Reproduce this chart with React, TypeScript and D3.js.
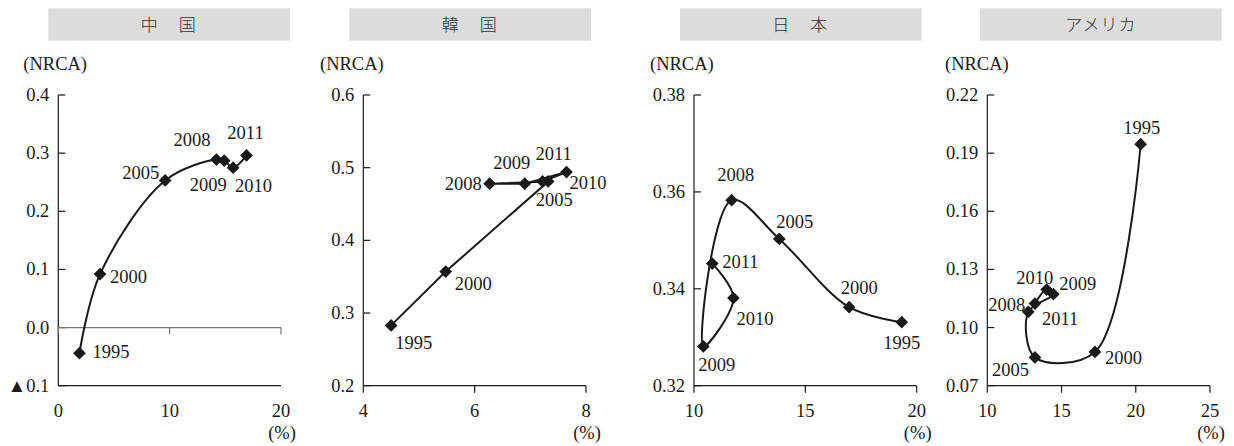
import React from "react";
import * as d3 from "d3";

// ---- data ----
const years = [1995, 2000, 2005, 2008, 2009, 2010, 2011];

const chinaShare = [1.9, 3.75, 9.6, 14.2, 14.9, 15.7, 16.9];
const chinaNrca = [-0.044, 0.092, 0.253, 0.289, 0.287, 0.275, 0.296];

const koreaShare = [4.5, 5.48, 7.32, 6.27, 6.9, 7.65, 7.22];
const koreaNrca = [0.283, 0.357, 0.481, 0.478, 0.478, 0.494, 0.481];

const japanShare = [19.33, 16.97, 13.83, 11.69, 10.42, 11.77, 10.82];
const japanNrca = [0.3331, 0.3362, 0.3503, 0.3583, 0.3281, 0.3381, 0.3452];

const usShare = [20.33, 17.25, 13.21, 12.76, 14.45, 14.0, 13.21];
const usNrca = [0.1946, 0.0874, 0.0846, 0.1081, 0.1172, 0.1196, 0.1124];

const chinaXTicks = [0, 10, 20];
const chinaYTicks = [-0.1, 0, 0.1, 0.2, 0.3, 0.4];
const chinaYLabels = ["▲0.1", "0.0", "0.1", "0.2", "0.3", "0.4"];

const koreaXTicks = [4, 6, 8];
const koreaYTicks = [0.2, 0.3, 0.4, 0.5, 0.6];
const koreaYLabels = ["0.2", "0.3", "0.4", "0.5", "0.6"];

const japanXTicks = [10, 15, 20];
const japanYTicks = [0.32, 0.34, 0.36, 0.38];
const japanYLabels = ["0.32", "0.34", "0.36", "0.38"];

const usXTicks = [10, 15, 20, 25];
const usYTicks = [0.07, 0.1, 0.13, 0.16, 0.19, 0.22];
const usYLabels = ["0.07", "0.10", "0.13", "0.16", "0.19", "0.22"];

const titles = ["中　国", "韓　国", "日　本", "アメリカ"];

// ---- layout (label placement relative to markers: anchor, dx, dy) ----
type Lab = [string, number, number];
const chinaLabels: Lab[] = [
  ["start", 13, -1], ["start", 10, 3], ["end", -6, -7], ["end", -6, -20],
  ["middle", -16, 24], ["start", 2, 18], ["middle", -1, -22],
];
const koreaLabelPos: Lab[] = [
  ["start", 4, 18], ["start", 9, 12], ["middle", 6, 19], ["end", -8, 0],
  ["middle", -13, -21], ["start", 3, 11], ["middle", 11, -27],
];
const japanLabelPos: Lab[] = [
  ["middle", 0, 21], ["middle", 10, -19], ["start", -3, -17], ["middle", 4, -25],
  ["start", -5, 19], ["start", 3, 21], ["start", 10, -2],
];
const usLabelPos: Lab[] = [
  ["middle", 1, -16], ["start", 10, 6], ["end", -6, 13], ["end", -3, -7],
  ["start", 6, -10], ["middle", -12, -12], ["start", 7, 15],
];

const TOP = 95;
const BOTTOM = 385.7;
const PW = 222.7;
const FONT = "'Liberation Serif', 'Times New Roman', serif";
const CJK = "Noto Sans CJK JP";
const INK = "#1a1a1a";

const serif: React.CSSProperties = { fontFamily: FONT, fontSize: "18.5px" };

interface PanelProps {
  axisX: number;
  boxLeft: number;
  nrcaLeft: number;
  title: string;
  letterSpacing: number;
  xs: number[];
  ys: number[];
  xTicks: number[];
  yTicks: number[];
  yLabels: string[];
  labels: Lab[];
  curved: boolean;
  zeroLine?: boolean;
}

function Panel(p: PanelProps) {
  const x = d3.scaleLinear().domain([p.xTicks[0], p.xTicks[p.xTicks.length - 1]]).range([p.axisX, p.axisX + PW]);
  const y = d3.scaleLinear().domain([p.yTicks[0], p.yTicks[p.yTicks.length - 1]]).range([BOTTOM, TOP]);
  const pts: [number, number][] = p.xs.map((v, i) => [x(v), y(p.ys[i])]);
  const line = d3.line().curve(p.curved ? d3.curveCatmullRom.alpha(0.5) : d3.curveLinear);
  const xAxisY = p.zeroLine ? y(0) : BOTTOM;
  const x0 = p.axisX;
  const x1 = p.axisX + PW;
  return (
    <g>
      <rect x={p.boxLeft} y={8.3} width={241.7} height={32.4} fill="#dcdcdc" />
      <text x={p.boxLeft + 241.7 / 2} y={31} textAnchor="middle" fill="#333"
        style={{ fontFamily: CJK, fontSize: "17px", fontWeight: 300, letterSpacing: `${p.letterSpacing}px` }}>{p.title}</text>
      <text x={p.nrcaLeft} y={69.5} fill={INK} style={serif}>(NRCA)</text>
      {/* y axis */}
      <line x1={x0} x2={x0} y1={TOP} y2={BOTTOM} stroke={INK} strokeWidth={1.2} />
      {p.yTicks.map((t, i) => (
        <g key={"y" + i}>
          <line x1={x0} x2={x0 + 7} y1={y(t)} y2={y(t)} stroke={INK} strokeWidth={1.2} />
          <text x={x0 - 9} y={y(t) + 6} textAnchor="end" fill={INK} style={serif}>{p.yLabels[i]}</text>
        </g>
      ))}
      {/* bottom line */}
      <line x1={x0} x2={x1} y1={BOTTOM} y2={BOTTOM} stroke={INK} strokeWidth={1.2} />
      {p.zeroLine && <line x1={x0} x2={x1} y1={xAxisY} y2={xAxisY} stroke="#777" strokeWidth={1.2} />}
      {p.xTicks.map((t, i) => (
        <g key={"x" + i}>
          <line x1={x(t)} x2={x(t)} y1={xAxisY} y2={xAxisY + 7} stroke={p.zeroLine ? "#777" : INK} strokeWidth={1.2} />
          <text x={x(t)} y={416.5} textAnchor="middle" fill={INK} style={serif}>{String(t)}</text>
        </g>
      ))}
      <text x={x1 + 1} y={439} textAnchor="middle" fill={INK} style={serif}>(%)</text>
      <path d={line(pts) || ""} fill="none" stroke={INK} strokeWidth={2} />
      {pts.map(([px, py], i) => (
        <rect key={"m" + i} x={px - 4.5} y={py - 4.5} width={9} height={9} fill={INK}
          transform={`rotate(45 ${px} ${py})`} />
      ))}
      {pts.map(([px, py], i) => (
        <text key={"l" + i} x={px + p.labels[i][1]} y={py + p.labels[i][2] + 6} textAnchor={p.labels[i][0] as any}
          fill={INK} style={serif}>{years[i]}</text>
      ))}
    </g>
  );
}

export default function App() {
  return (
    <svg width={1234} height={446} style={{ position: "absolute", left: 0, top: 0, background: "#fff" }}>
      <rect width={1234} height={446} fill="#fff" />
      <Panel axisX={58.3} boxLeft={48.3} nrcaLeft={23.3} title={titles[0]} letterSpacing={2}
        xs={chinaShare} ys={chinaNrca} xTicks={chinaXTicks} yTicks={chinaYTicks} yLabels={chinaYLabels}
        labels={chinaLabels} curved zeroLine />
      <Panel axisX={363.3} boxLeft={349.3} nrcaLeft={320} title={titles[1]} letterSpacing={2}
        xs={koreaShare} ys={koreaNrca} xTicks={koreaXTicks} yTicks={koreaYTicks} yLabels={koreaYLabels}
        labels={koreaLabelPos} curved={false} />
      <Panel axisX={694} boxLeft={680} nrcaLeft={650} title={titles[2]} letterSpacing={2}
        xs={japanShare} ys={japanNrca} xTicks={japanXTicks} yTicks={japanYTicks} yLabels={japanYLabels}
        labels={japanLabelPos} curved />
      <Panel axisX={987.3} boxLeft={980} nrcaLeft={945} title={titles[3]} letterSpacing={1}
        xs={usShare} ys={usNrca} xTicks={usXTicks} yTicks={usYTicks} yLabels={usYLabels}
        labels={usLabelPos} curved />
    </svg>
  );
}
